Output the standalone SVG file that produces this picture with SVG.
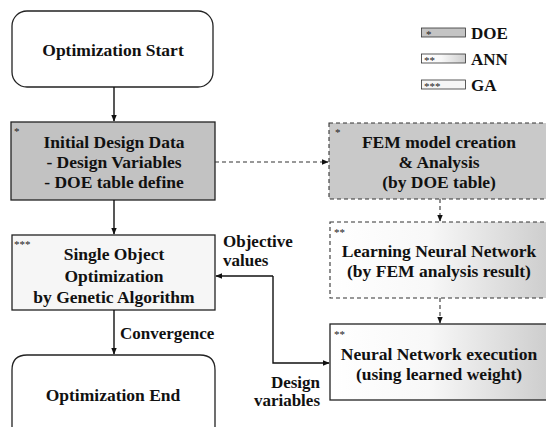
<svg xmlns="http://www.w3.org/2000/svg" width="546" height="427" viewBox="0 0 546 427">
<defs>
<style>
text{font-family:'Liberation Serif','Times New Roman',serif}
.t{font-weight:bold;font-size:17.5px;fill:#111;text-anchor:middle}
.l{font-weight:bold;font-size:17px;fill:#111}
.s{font-size:11px;fill:#222}
.solid{stroke:#222;stroke-width:1.3}
.dash{stroke:#333;stroke-width:1.1;stroke-dasharray:4 3}
.c{stroke:#111;stroke-width:1.4;fill:none}
.cd{stroke:#333;stroke-width:1.1;fill:none;stroke-dasharray:4 3}
</style>
<linearGradient id="gNN" x1="0" y1="0" x2="1" y2="0">
<stop offset="0" stop-color="#ffffff"/><stop offset="0.45" stop-color="#f8f8f8"/><stop offset="1" stop-color="#cdcdcd"/>
</linearGradient>
<marker id="ah" viewBox="0 0 10 10" refX="9" refY="5" markerWidth="7" markerHeight="7" orient="auto" markerUnits="userSpaceOnUse">
<path d="M0,1 L10,5 L0,9 z" fill="#111"/>
</marker>
</defs>
<rect width="546" height="427" fill="#fff"/>

<g id="legend">
<rect x="421.5" y="28" width="44" height="9" fill="#c4c4c4" stroke="#333" stroke-width="0.8"/>
<text class="s" x="426" y="38">*</text>
<text class="l" x="471" y="39">DOE</text>
<rect x="421.5" y="54" width="44" height="9" fill="url(#gNN)" stroke="#333" stroke-width="0.8"/>
<text class="s" x="424" y="64">**</text>
<text class="l" x="471" y="65">ANN</text>
<rect x="421.5" y="80" width="44" height="9" fill="#f6f6f6" stroke="#333" stroke-width="0.8"/>
<text class="s" x="424" y="90">***</text>
<text class="l" x="471" y="91">GA</text>
</g>

<g id="start">
<rect x="12" y="11" width="201" height="76" rx="15" fill="#fff" class="solid"/>
<text class="t" x="113" y="56">Optimization Start</text>
</g>

<g id="initial">
<rect x="11" y="122" width="204" height="78" fill="#c2c2c2" class="solid"/>
<text class="s" x="14" y="135">*</text>
<text class="t" x="114" y="148">Initial Design Data</text>
<text class="t" x="114" y="168">- Design Variables</text>
<text class="t" x="114" y="188">- DOE table define</text>
</g>

<g id="fem">
<rect x="329" y="123" width="220" height="76" fill="#c9c9c9" class="dash"/>
<text class="s" x="335" y="136">*</text>
<text class="t" x="439" y="148">FEM model creation</text>
<text class="t" x="439" y="168">&amp; Analysis</text>
<text class="t" x="439" y="188">(by DOE table)</text>
</g>

<g id="ga">
<rect x="12" y="235" width="203" height="75" fill="#f6f6f6" class="solid"/>
<text class="s" x="14" y="248">***</text>
<text class="t" x="114" y="260">Single Object</text>
<text class="t" x="114" y="282">Optimization</text>
<text class="t" x="114" y="303">by Genetic Algorithm</text>
</g>

<g id="learning">
<rect x="330" y="222" width="219" height="76" fill="url(#gNN)" class="dash"/>
<text class="s" x="334" y="236">**</text>
<text class="t" x="439" y="257">Learning Neural Network</text>
<text class="t" x="439" y="277">(by FEM analysis result)</text>
</g>

<g id="nnexec">
<rect x="330" y="324" width="219" height="76" fill="url(#gNN)" class="solid"/>
<text class="s" x="334" y="338">**</text>
<text class="t" x="439" y="360">Neural Network execution</text>
<text class="t" x="439" y="380">(using learned weight)</text>
</g>

<g id="end">
<path d="M12,430 L12,370 Q12,355 27,355 L200,355 Q215,355 215,370 L215,430" fill="#fff" class="solid"/>
<text class="t" x="113" y="401">Optimization End</text>
</g>

<g id="connectors">
<line x1="114" y1="87" x2="114" y2="121" class="c" marker-end="url(#ah)"/>
<line x1="114" y1="200" x2="114" y2="234" class="c" marker-end="url(#ah)"/>
<line x1="114" y1="310" x2="114" y2="354" class="c" marker-end="url(#ah)"/>
<line x1="215" y1="162" x2="328" y2="162" class="cd" marker-end="url(#ah)"/>
<line x1="440" y1="199" x2="440" y2="221" class="cd" marker-end="url(#ah)"/>
<line x1="440" y1="298" x2="440" y2="323" class="cd" marker-end="url(#ah)"/>
<polyline points="273,276 273,363 329,363" class="c" marker-end="url(#ah)"/>
<line x1="273" y1="276" x2="216" y2="276" class="c" marker-end="url(#ah)"/>
<text class="l" x="223" y="247" font-size="16px">Objective</text>
<text class="l" x="223" y="266" font-size="16px">values</text>
<text class="l" x="320" y="388" text-anchor="end" font-size="15.5px">Design</text>
<text class="l" x="320" y="406" text-anchor="end" font-size="15.5px">variables</text>
<text class="l" x="120" y="339">Convergence</text>
</g>
</svg>
